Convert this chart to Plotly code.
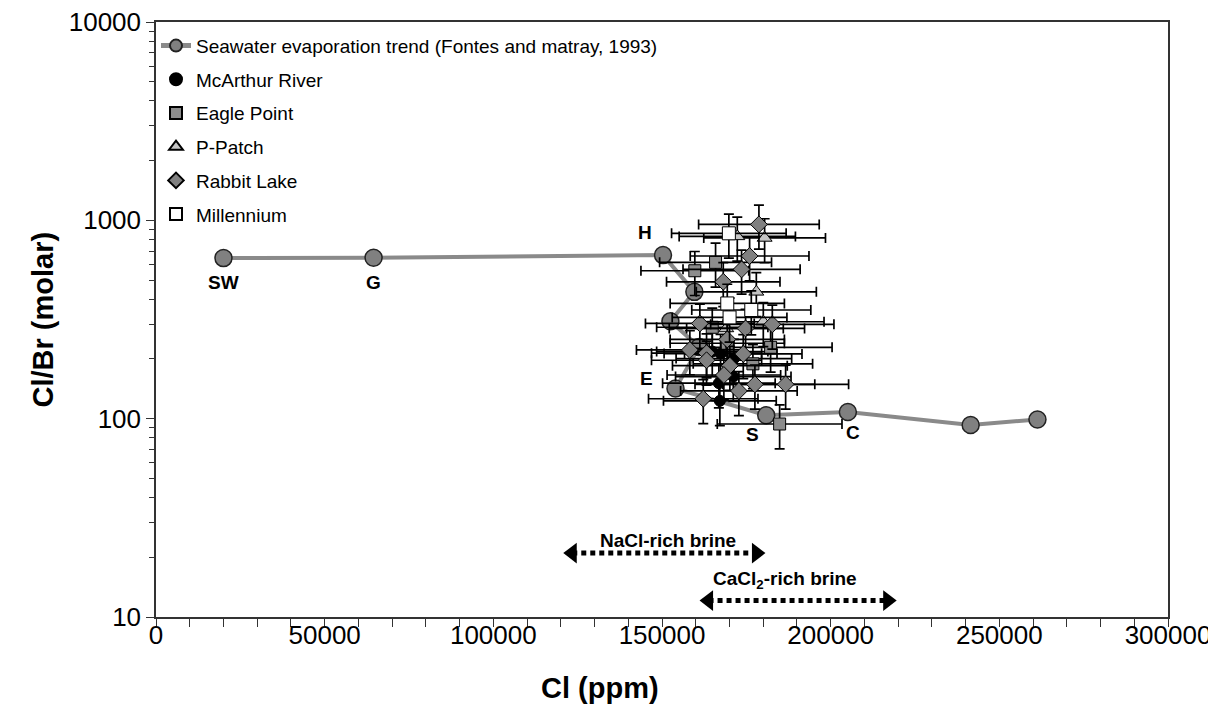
import math
import plotly.graph_objects as go

# ---------------- data ----------------
sw_cl = [20000, 64500, 150300, 159600, 152500, 161000, 154000, 180900, 205100, 241500, 261300]
sw_ratio = [645, 648, 668, 436, 310, 230, 142, 104, 108, 93, 99]
sw_labels = ["SW", "G", "H", "", "", "", "E", "S", "C", "", ""]
# label offsets in pixels (dx, dy) relative to each point
sw_label_dx = [0, 0, -18, 0, 0, 0, -29, -14, 5, 0, 0]
sw_label_dy = [-24, -25, 23, 0, 0, 0, 10, -19, -20, 0, 0]

mca_cl = [164900, 167360, 171310, 171130, 166860, 167150]
mca_ratio = [218, 213, 201, 163, 151, 123]

eagle_cl = [165880, 159730, 164900, 169350, 182200, 176950, 184870]
eagle_ratio = [614, 557, 289, 240, 229, 189, 94]

ppatch_cl = [172320, 180420, 177960, 180030, 169050]
ppatch_ratio = [830, 815, 436, 308, 285]

rabbit_cl = [178730, 175970, 173590, 168160, 161220, 174780, 182700, 169350, 158250,
             163210, 163210, 174090, 170120, 168340, 177540, 186650, 172790, 162230]
rabbit_ratio = [954, 661, 566, 490, 302, 285, 299, 251, 222,
                214, 197, 212, 185, 166, 149, 149, 138, 126]

mill_cl = [169820, 169350, 176470, 170030]
mill_ratio = [860, 381, 353, 324]

cl_err_pct = 10
ratio_err_pct = 25

nacl_range = [123400, 178000]
nacl_level = 21.0
cacl2_range = [163800, 216900]
cacl2_level = 12.1

x_ticks = [0, 50000, 100000, 150000, 200000, 250000, 300000]
y_ticks = [10, 100, 1000, 10000]
y_minor = [m * d for d in (10, 100, 1000) for m in range(2, 10)]

FONT = "Liberation Sans, Arial, sans-serif"

fig = go.Figure()

fig.add_trace(go.Scatter(
    x=sw_cl, y=sw_ratio, mode="lines+markers",
    name="Seawater evaporation trend (Fontes and matray, 1993)",
    line=dict(color="#8a8a8a", width=4),
    marker=dict(symbol="circle", size=17, color="#808080", line=dict(color="#222", width=1.5)),
    legendgroup="sw",
))
for xv, yv, lab, dx, dy in zip(sw_cl, sw_ratio, sw_labels, sw_label_dx, sw_label_dy):
    if lab:
        fig.add_annotation(x=xv, y=math.log10(yv), text=f"<b>{lab}</b>", showarrow=False,
                           xshift=dx, yshift=dy, font=dict(family=FONT, size=19, color="black"))

err_x = dict(type="percent", value=cl_err_pct, color="black", thickness=1.7, width=5)
err_y = dict(type="percent", value=ratio_err_pct, color="black", thickness=1.7, width=5)

series = [
    ("McArthur River", mca_cl, mca_ratio, "circle", 11, "black"),
    ("Eagle Point", eagle_cl, eagle_ratio, "square", 12, "#8c8c8c"),
    ("P-Patch", ppatch_cl, ppatch_ratio, "triangle-up", 13, "#c4c4c4"),
    ("Rabbit Lake", rabbit_cl, rabbit_ratio, "diamond", 13, "#808080"),
    ("Millennium", mill_cl, mill_ratio, "square", 13, "white"),
]
for name, xs, ys, sym, size, col in series:
    fig.add_trace(go.Scatter(
        x=xs, y=ys, mode="markers", name=name,
        marker=dict(symbol=sym, size=size, color=col, line=dict(color="black", width=1)),
        error_x=err_x, error_y=err_y, legendgroup=name,
    ))

for rng, lvl in ((nacl_range, nacl_level), (cacl2_range, cacl2_level)):
    fig.add_trace(go.Scatter(
        x=rng, y=[lvl, lvl], mode="lines+markers",
        line=dict(color="black", width=5, dash="5px,4px"),
        marker=dict(symbol=["triangle-left", "triangle-right"], size=18, color="black"),
        showlegend=False, hoverinfo="skip",
    ))

fig.add_annotation(x=(nacl_range[0] + nacl_range[1]) / 2 + 1000, y=math.log10(nacl_level), yshift=13,
                   text="<b>NaCl-rich brine</b>", showarrow=False, yanchor="middle",
                   font=dict(family=FONT, size=19, color="black"))
fig.add_annotation(x=(cacl2_range[0] + cacl2_range[1]) / 2 - 4000, y=math.log10(cacl2_level), yshift=21,
                   text="<b>CaCl<sub>2</sub>-rich brine</b>", showarrow=False, yanchor="middle",
                   font=dict(family=FONT, size=19, color="black"))

# axis titles
fig.add_annotation(xref="paper", yref="paper", x=0.439, y=0, yshift=-71, yanchor="middle",
                   text="<b>Cl (ppm)</b>", showarrow=False,
                   font=dict(family=FONT, size=29, color="black"))
fig.add_annotation(xref="paper", yref="paper", x=0, y=0.5, xshift=-114, xanchor="center",
                   text="<b>Cl/Br (molar)</b>", showarrow=False, textangle=-90,
                   font=dict(family=FONT, size=29, color="black"))

fig.update_layout(
    width=1216, height=724,
    margin=dict(l=148, r=56, t=14, b=115),
    paper_bgcolor="white", plot_bgcolor="white",
    font=dict(family=FONT, color="black"),
    showlegend=True,
    legend=dict(x=0.0, y=0.992, xanchor="left", yanchor="top", bgcolor="rgba(0,0,0,0)",
                font=dict(family=FONT, size=19, color="black"), tracegroupgap=6,
                itemsizing="constant"),
    xaxis=dict(
        range=[0, 300000], tickvals=x_ticks, tickformat="d", automargin=False,
        ticklabeloverflow="allow",
        ticks="outside", ticklen=8, tickwidth=1, tickcolor="#333", ticklabelstandoff=-14,
        minor=dict(dtick=10000, ticks="outside", ticklen=8, tickwidth=1, tickcolor="#333"),
        showline=True, linecolor="#333", linewidth=1.5, mirror=True, showgrid=False, zeroline=False,
        tickfont=dict(family=FONT, size=26, color="black"),
    ),
    yaxis=dict(
        type="log", range=[1, 4], tickvals=y_ticks, ticktext=[str(v) for v in y_ticks], automargin=False,
        ticklabeloverflow="allow",
        ticks="outside", ticklen=8, tickwidth=1, tickcolor="#333",
        minor=dict(tickvals=y_minor, ticks="outside", ticklen=5, tickwidth=1, tickcolor="#333"),
        showline=True, linecolor="#333", linewidth=1.5, mirror=True, showgrid=False, zeroline=False,
        tickfont=dict(family=FONT, size=26, color="black"),
    ),
)

fig.write_html("out.html")
